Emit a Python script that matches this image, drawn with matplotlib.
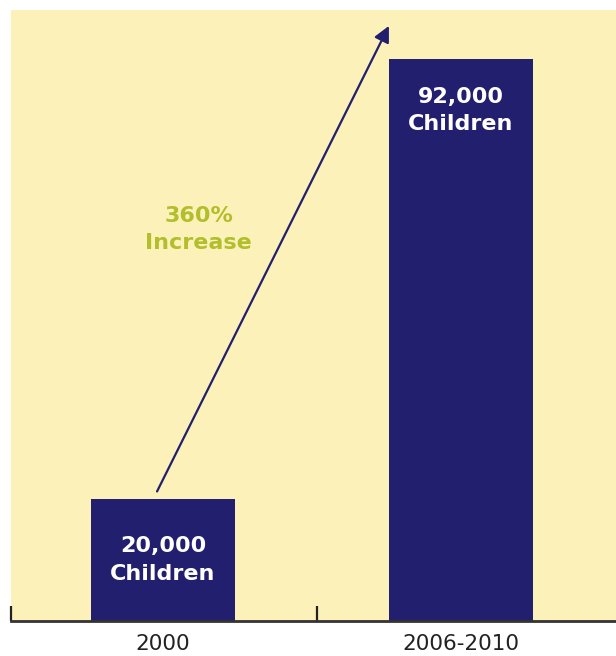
import matplotlib
matplotlib.use('Agg')
import matplotlib.pyplot as plt

plt.rcParams['font.family'] = ['DejaVu Sans']

# 数据
periods = ['2000', '2006-2010']
children = [20000, 92000]
bar_labels = ['20,000\nChildren', '92,000\nChildren']
increase_label = '360%\nIncrease'

navy = '#231F6F'
bg = '#FBF1B9'
olive = '#B3BE2C'

fig = plt.figure(figsize=(6.16, 6.56), dpi=100)
ax = fig.add_axes([11 / 616, 35 / 656, 605 / 616, 611 / 656])
ax.set_facecolor(bg)

x = range(len(periods))
bars = ax.bar(x, children, width=0.483, color=navy, zorder=2)

# 柱内文字：矮柱居中，高柱靠上
for rect, lab in zip(bars, bar_labels):
    cx = rect.get_x() + rect.get_width() / 2
    h = rect.get_height()
    if h < 50000:
        ax.text(cx, h / 2, lab, ha='center', va='center', color='white',
                fontsize=16, fontweight='bold', linespacing=1.45, zorder=3)
    else:
        ax.annotate(lab, xy=(cx, h), xytext=(0, -37),
                    textcoords='offset points', ha='center', va='center',
                    color='white', fontsize=16, fontweight='bold',
                    linespacing=1.45, zorder=3)

# 增长箭头
ax.annotate('', xy=(0.758, 97400), xytext=(-0.02, 21200),
            arrowprops=dict(arrowstyle='-|>', color=navy, lw=1.6,
                            mutation_scale=24, shrinkA=0, shrinkB=0),
            zorder=3)
ax.text(0.12, 64100, increase_label, ha='center', va='center',
        color=olive, fontsize=16, fontweight='bold', linespacing=1.45)

ax.set_xlim(-0.51, 1.52)
ax.set_ylim(0, 100000)
ax.set_xticks(list(x))
ax.set_xticklabels(periods, fontsize=15.5, color='#222222')
ax.tick_params(axis='x', which='major', length=0, pad=9)
ax.set_xticks([-0.51, 0.517], minor=True)
ax.tick_params(axis='x', which='minor', direction='in', length=11,
               width=1.6, color='#222222')
ax.set_yticks([])
for s in ['top', 'right', 'left']:
    ax.spines[s].set_visible(False)
ax.spines['bottom'].set_linewidth(2)
ax.spines['bottom'].set_color('#333333')

fig.savefig('out.png', dpi=100)
